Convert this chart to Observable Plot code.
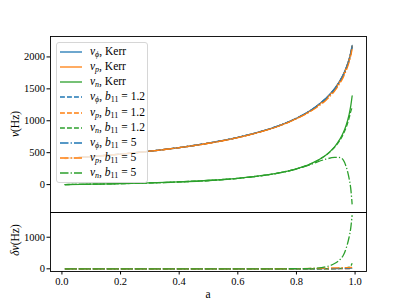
<!DOCTYPE html>
<html><head><meta charset="utf-8">
<script src="https://cdn.jsdelivr.net/npm/d3@7"></script>
<script src="https://cdn.jsdelivr.net/npm/@observablehq/plot@0.6"></script>
<style>
body{margin:0;background:#fff;}
#fig{position:relative;width:407px;height:305px;overflow:hidden;background:#fff;font-family:"Liberation Serif","DejaVu Serif",serif;color:#000;}
#fig > svg{position:absolute;left:0;}
#fig svg text{font-family:"Liberation Serif","DejaVu Serif",serif;}
.lab{position:absolute;font-size:11.5px;white-space:nowrap;line-height:1;}
.rot{transform:translate(-50%,-50%) rotate(-90deg);}
#legend{position:absolute;left:56px;top:42px;width:92px;height:141px;box-sizing:border-box;border:1px solid #d6d6d6;border-radius:3px;background:rgba(255,255,255,0.8);}
.li{position:absolute;left:0;height:14px;width:100%;}
.li svg{position:absolute;left:3px;top:2px;}
.li .t{position:absolute;left:33px;top:0px;font-size:11.5px;white-space:nowrap;line-height:12px;}
sub{font-size:8px;vertical-align:-2px;line-height:0;}
</style></head>
<body><div id="fig"></div>
<script>
// spin parameter
const a = [0.01,0.1,0.2,0.3,0.4,0.5,0.6,0.7,0.75,0.8,0.85,0.9,0.93,0.95,0.96,0.97,0.98,0.985,0.99];
// top panel: frequencies (Hz)
const nuPhiKerr = [410,440,478,524,580,650,739,861,940,1039,1167,1349,1502,1641,1728,1835,1974,2065,2180];
const nuPKerr   = [409,439,477,523,579,648,737,858,937,1035,1162,1343,1495,1633,1719,1825,1963,2053,2168];
const nuNKerr   = [1,6,15,26,42,64,98,151,191,247,328,461,592,724,815,935,1105,1224,1388];
const nuPhiB12  = [410,440,478,524,580,650,739,861,940,1039,1166,1347,1499,1637,1723,1829,1966,2055,2168];
const nuPB12    = [409,439,477,523,579,648,737,858,937,1035,1161,1341,1492,1629,1714,1819,1955,2043,2156];
const nuNB12    = [1,6,15,26,42,64,98,151,191,247,327,457,585,708,792,900,1050,1140,1210];
const nuPhiB5   = [410,440,478,524,580,650,739,861,940,1039,1165,1344,1494,1630,1715,1820,1957,2046,2160];
const nuPB5     = [409,439,477,523,579,648,737,857,935,1031,1152,1318,1465,1600,1684,1788,1923,2011,2123];
const nuNB5     = [1,6,15,26,42,64,98,151,190,244,318,398,425,420,385,275,90,-50,-310];
// bottom panel: deviations (Hz)
const dPhiB12 = [0,0,0,0,0,0,0,0,0,0,1,2,3,4,5,6,8,10,12];
const dPB12   = [0,0,0,0,0,0,0,0,0,0,1,2,3,4,5,6,8,10,12];
const dNB12   = [0,0,0,0,0,0,0,0,0,0,1,4,7,16,23,35,55,84,178];
const dPhiB5  = [0,0,0,0,0,0,0,0,0,0,2,5,8,11,13,15,17,19,20];
const dPB5    = [0,0,0,0,0,0,0,1,2,4,10,25,30,33,35,37,40,42,45];
const dNB5    = [0,0,0,0,0,0,0,0,1,3,10,63,167,304,430,660,1015,1274,1698];
// tick labels
const yTicksTop = [0,500,1000,1500,2000];
const yTicksBottom = [0,1000];
const xTicks = [0,0.2,0.4,0.6,0.8,1.0];

const C = {phi:"#1f77b4", p:"#ff7f0e", n:"#2ca02c"};
const DASH = {solid:null, dashed:"4.9,2.1", dashdot:"8.5,2.1,1.3,2.1"};

const topSeries = [
  {v:nuPhiKerr,c:C.phi,d:"solid",lab:'<i>ν</i><sub><i>ϕ</i></sub>, Kerr'},
  {v:nuPKerr,c:C.p,d:"solid",lab:'<i>ν</i><sub><i>p</i></sub>, Kerr'},
  {v:nuNKerr,c:C.n,d:"solid",lab:'<i>ν</i><sub><i>n</i></sub>, Kerr'},
  {v:nuPhiB12,c:C.phi,d:"dashed",lab:'<i>ν</i><sub><i>ϕ</i></sub>, <i>b</i><sub>11</sub> = 1.2'},
  {v:nuPB12,c:C.p,d:"dashed",lab:'<i>ν</i><sub><i>p</i></sub>, <i>b</i><sub>11</sub> = 1.2'},
  {v:nuNB12,c:C.n,d:"dashed",lab:'<i>ν</i><sub><i>n</i></sub>, <i>b</i><sub>11</sub> = 1.2'},
  {v:nuPhiB5,c:C.phi,d:"dashdot",lab:'<i>ν</i><sub><i>ϕ</i></sub>, <i>b</i><sub>11</sub> = 5'},
  {v:nuPB5,c:C.p,d:"dashdot",lab:'<i>ν</i><sub><i>p</i></sub>, <i>b</i><sub>11</sub> = 5'},
  {v:nuNB5,c:C.n,d:"dashdot",lab:'<i>ν</i><sub><i>n</i></sub>, <i>b</i><sub>11</sub> = 5'}
];
const botSeries = [
  {v:dPhiB12,c:C.phi,d:"dashed"},{v:dPB12,c:C.p,d:"dashed"},{v:dNB12,c:C.n,d:"dashed"},
  {v:dPhiB5,c:C.phi,d:"dashdot"},{v:dPB5,c:C.p,d:"dashdot"},{v:dNB5,c:C.n,d:"dashdot"}
];

function lineMark(s){
  return Plot.line(a, {x:d=>d, y:(d,i)=>s.v[i], stroke:s.c, strokeWidth:1.3,
    strokeDasharray:DASH[s.d]||undefined, strokeLinecap: s.d==="solid"?"round":"butt",
    curve:"catmull-rom"});
}
const xDomain = [-0.039, 1.039];
const style = {fontFamily:'"Liberation Serif","DejaVu Serif",serif', fontSize:"10.5px", color:"#000", background:"transparent", overflow:"visible"};
const intFmt = d => String(d);

const topPlot = Plot.plot({
  width:407, height:213, marginTop:36, marginBottom:1, marginLeft:50, marginRight:41,
  style,
  x:{domain:xDomain, axis:null},
  y:{domain:[-437,2320]},
  marks:[
    ...topSeries.map(lineMark),
    Plot.axisY(yTicksTop,{tickSize:3.5, tickPadding:2, label:null, tickFormat:intFmt, stroke:"#000", fill:"#000", fontSize:10.5}),
    Plot.frame({stroke:"#000", strokeWidth:0.9})
  ]
});
topPlot.style.top = "0px";

const botPlot = Plot.plot({
  width:407, height:95, marginTop:2, marginBottom:34, marginLeft:50, marginRight:41,
  style,
  x:{domain:xDomain},
  y:{domain:[-85,1783]},
  marks:[
    ...botSeries.map(lineMark),
    Plot.axisY(yTicksBottom,{tickSize:3.5, tickPadding:2, label:null, tickFormat:intFmt, stroke:"#000", fill:"#000", fontSize:10.5}),
    Plot.axisX(xTicks,{tickSize:3.5, tickPadding:3, label:null, tickFormat:d3.format(".1f"), stroke:"#000", fill:"#000", fontSize:10.5}),
    Plot.frame({stroke:"#000", strokeWidth:0.9})
  ]
});
botPlot.style.top = "210px";

const fig = document.getElementById("fig");
fig.appendChild(topPlot);
fig.appendChild(botPlot);

function addLabel(html, x, y, rot){
  const el = document.createElement("div");
  el.className = "lab" + (rot ? " rot" : "");
  el.innerHTML = html;
  el.style.left = x + "px"; el.style.top = y + "px";
  if (!rot) el.style.transform = "translate(-50%,-50%)";
  fig.appendChild(el);
}
addLabel('<i>ν</i>(Hz)', 16, 124, true);
addLabel('<i>δν</i>(Hz)', 16, 240, true);
addLabel('a', 208, 295, false);

// legend
const leg = document.createElement("div");
leg.id = "legend";
topSeries.forEach((s,i)=>{
  const row = document.createElement("div");
  row.className = "li";
  row.style.top = (2 + i*15.15) + "px";
  const dash = DASH[s.d] ? `stroke-dasharray="${DASH[s.d]}"` : "";
  row.innerHTML = `<svg width="24" height="10"><line x1="0" y1="5" x2="22" y2="5" stroke="${s.c}" stroke-width="1.3" ${dash}/></svg><span class="t">${s.lab}</span>`;
  leg.appendChild(row);
});
fig.appendChild(leg);
</script>
</body></html>
